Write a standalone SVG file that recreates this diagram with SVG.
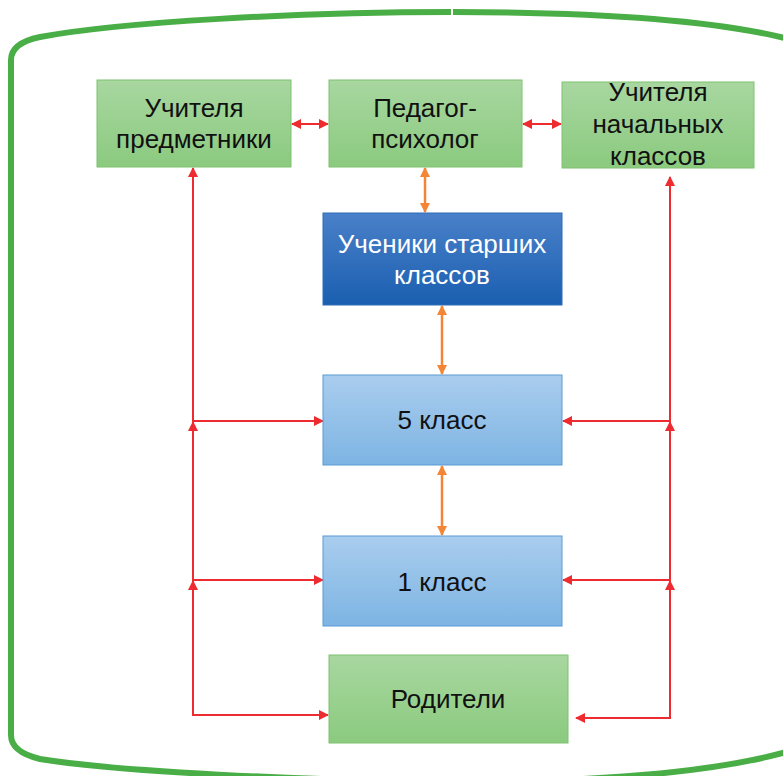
<svg xmlns="http://www.w3.org/2000/svg" width="783" height="776" viewBox="0 0 783 776">
<defs>
<linearGradient id="gGreen" x1="0" y1="0" x2="0" y2="1"><stop offset="0" stop-color="#A8D7A0"/><stop offset="1" stop-color="#8BCA7F"/></linearGradient>
<linearGradient id="gBlue" x1="0" y1="0" x2="0" y2="1"><stop offset="0" stop-color="#4A80C9"/><stop offset="1" stop-color="#1A5FB0"/></linearGradient>
<linearGradient id="gLight" x1="0" y1="0" x2="0" y2="1"><stop offset="0" stop-color="#AACDEE"/><stop offset="1" stop-color="#7DB4E3"/></linearGradient>
<marker id="ar" viewBox="0 0 10 10" refX="9" refY="5" markerWidth="10" markerHeight="10" markerUnits="userSpaceOnUse" orient="auto-start-reverse"><path d="M0,0 L10,5 L0,10 z" fill="#EE2B2F"/></marker>
<marker id="ao" viewBox="0 0 10 10" refX="9" refY="5" markerWidth="10" markerHeight="10" markerUnits="userSpaceOnUse" orient="auto-start-reverse"><path d="M0,0 L10,5 L0,10 z" fill="#F58536"/></marker>
</defs>
<style>
.cont{fill:none;stroke:#4AAE47;stroke-width:6;stroke-linecap:butt}
.green{fill:url(#gGreen);stroke:#7FC271;stroke-width:1}
.blue{fill:url(#gBlue);stroke:#2E6DB8;stroke-width:1}
.light{fill:url(#gLight);stroke:#5B9BD5;stroke-width:1}
.t{font-family:"Liberation Sans",Arial,sans-serif;font-size:26px;fill:#111;text-anchor:middle}
.tw{font-family:"Liberation Sans",Arial,sans-serif;font-size:26px;fill:#fff;text-anchor:middle}
.r{fill:none;stroke:#EE2B2F;stroke-width:2;marker-end:url(#ar)}
.rr{fill:none;stroke:#EE2B2F;stroke-width:2;marker-start:url(#ar);marker-end:url(#ar)}
.o{fill:none;stroke:#F58536;stroke-width:2.5;marker-start:url(#ao);marker-end:url(#ao)}
</style>
<g id="container">
<path class="cont" d="M451,12 C300,12 120,22 40,37 Q11,43 11,60 L11,735 Q11,752 40,759 C120,772 300,780 451,782"/>
<path class="cont" d="M453,12 C620,12 730,22 800,42"/>
<path class="cont" d="M453,782 C620,782 730,770 800,748"/>
</g>
<g id="connectors">
<path class="rr" d="M292,124 L328,124"/>
<path class="rr" d="M523,124 L561,124"/>
<path class="o" d="M425,168 L425,212"/>
<path class="o" d="M442,306 L442,374"/>
<path class="o" d="M442,466 L442,535"/>
<path class="r" d="M193,421 L193,168"/>
<path class="r" d="M193,580 L193,422"/>
<path class="r" d="M193,715 L193,581"/>
<path class="r" d="M192,421 L323,421"/>
<path class="r" d="M192,580 L323,580"/>
<path class="r" d="M192,715 L328,715"/>
<path class="r" d="M670,421 L670,177"/>
<path class="r" d="M670,580 L670,422"/>
<path class="r" d="M670,718 L670,581"/>
<path class="r" d="M671,421 L563,421"/>
<path class="r" d="M671,580 L563,580"/>
<path class="r" d="M671,718 L576,718"/>
</g>
<g id="n-predmet"><rect class="green" x="97" y="80" width="194" height="87"/><text class="t" x="194" y="117">Учителя</text><text class="t" x="194" y="148">предметники</text></g>
<g id="n-psych"><rect class="green" x="329" y="80" width="193" height="87"/><text class="t" x="425" y="117">Педагог-</text><text class="t" x="425" y="148">психолог</text></g>
<g id="n-nach"><rect class="green" x="562" y="82" width="192" height="86"/><text class="t" x="658" y="101">Учителя</text><text class="t" x="658" y="133">начальных</text><text class="t" x="658" y="165">классов</text></g>
<g id="n-starsh"><rect class="blue" x="323" y="213" width="239" height="92"/><text class="tw" x="442" y="253">Ученики старших</text><text class="tw" x="442" y="284">классов</text></g>
<g id="n-5"><rect class="light" x="323" y="375" width="239" height="90"/><text class="t" x="442" y="429">5 класс</text></g>
<g id="n-1"><rect class="light" x="323" y="536" width="239" height="90"/><text class="t" x="442" y="591">1 класс</text></g>
<g id="n-rod"><rect class="green" x="329" y="655" width="239" height="88"/><text class="t" x="448" y="708">Родители</text></g>
</svg>
